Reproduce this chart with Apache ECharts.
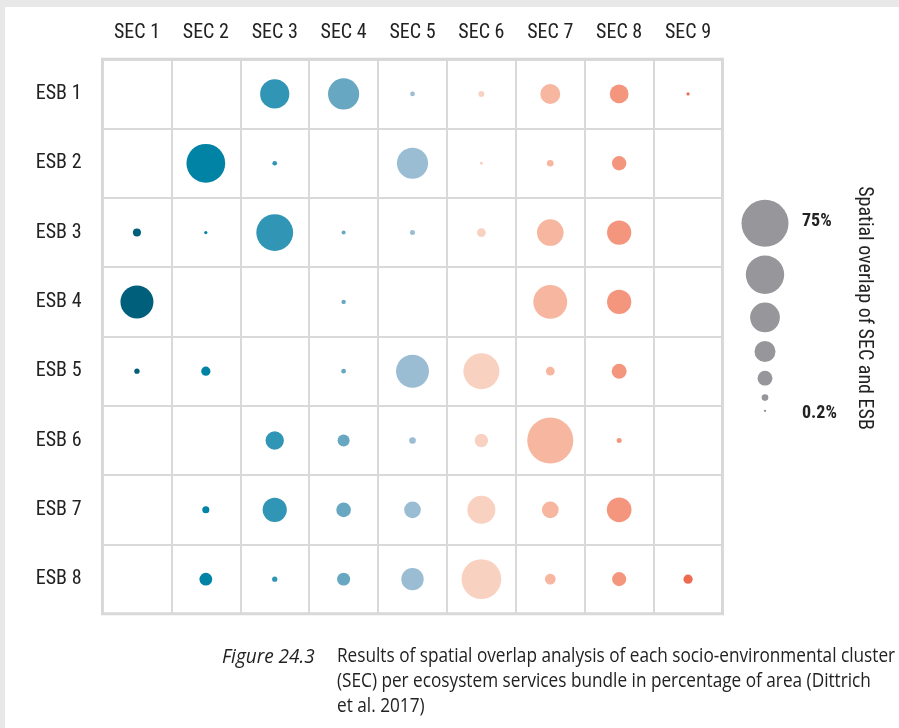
<!DOCTYPE html>
<html>
<head>
<meta charset="utf-8">
<script src="https://cdn.jsdelivr.net/npm/echarts@6/dist/echarts.min.js"></script>
<style>
html,body{margin:0;padding:0;background:#e8e8e8;}
#wrap{position:absolute;left:5px;top:7px;right:0;bottom:0;background:#fff;}
#chart{position:absolute;left:0;top:0;width:899px;height:728px;}
</style>
</head>
<body>
<div id="wrap"></div>
<div id="chart"></div>
<script>
// ---- data ----
const secs = ['SEC 1','SEC 2','SEC 3','SEC 4','SEC 5','SEC 6','SEC 7','SEC 8','SEC 9'];
const esbs = ['ESB 1','ESB 2','ESB 3','ESB 4','ESB 5','ESB 6','ESB 7','ESB 8'];
const secColors = ['#005f7b','#0083a5','#3196b5','#67a7c2','#9bbdd3','#f9d1c1','#f7b69f','#f4967d','#ef6b4f'];
// spatial overlap (% of area) per ESB row, one value per SEC (null = none)
const esb1 = [null, null, 29, 33, 0.75, 1.2, 13.5, 12, 0.35];
const esb2 = [null, 51, 0.75, null, 33, 0.3, 1.5, 7, null];
const esb3 = [2.2, 0.35, 46, 0.55, 0.85, 2.6, 24, 20, null];
const esb4 = [37, null, null, 0.65, null, null, 39, 20, null];
const esb5 = [0.95, 2.9, null, 0.75, 37, 44, 2.6, 7.6, null];
const esb6 = [null, null, 11.4, 4.9, 1.5, 6, 72, 0.85, null];
const esb7 = [null, 1.7, 20, 7.3, 9.5, 26.6, 9.5, 20.7, null];
const esb8 = [null, 5.5, 0.95, 5.7, 17, 53.5, 3.9, 6.7, 2.9];
const legendValues = [75, 50, 30, 15, 7.5, 1.5, 0.2];
const legendLabels = ['75%', '', '', '', '', '', '0.2%'];
const legendTitle = 'Spatial overlap of SEC and ESB';
const captionLabel = 'Figure 24.3';
const captionLines = [
  'Results of spatial overlap analysis of each socio-environmental cluster',
  '(SEC) per ecosystem services bundle in percentage of area (Dittrich',
  'et al. 2017)'
];

// ---- build ----
const rows = [esb1, esb2, esb3, esb4, esb5, esb6, esb7, esb8];
const points = [];
rows.forEach((r, yi) => r.forEach((v, xi) => { if (v != null) points.push([xi, yi, v]); }));

const MAXV = 75, MAXD = 47;
const sizeOf = v => MAXD * Math.sqrt(v / MAXV);

// legend positions stacked with constant gap
const GAP = 8.7;
const legendPts = [];
let yy = 33.3;
legendValues.forEach((v, i) => {
  if (i > 0) yy += sizeOf(legendValues[i - 1]) / 2 + sizeOf(v) / 2 + GAP;
  legendPts.push({ value: [0, yy, v], label: { show: !!legendLabels[i], formatter: legendLabels[i], offset: [37, i === 0 ? -2 : 3] } });
});

const condensed = "'Liberation Sans Narrow','Roboto Condensed',Roboto,sans-serif";
const chart = echarts.init(document.getElementById('chart'), null, { renderer: 'canvas' });
chart.setOption({
  animation: false,
  textStyle: { fontFamily: condensed },
  grid: [
    { left: 102.5, top: 59.3, width: 620, height: 554.5, show: true, borderColor: '#d6d6d6', borderWidth: 3, backgroundColor: 'transparent' },
    { left: 740, top: 190, width: 50, height: 250 }
  ],
  xAxis: [
    { type: 'category', data: secs, position: 'top', gridIndex: 0,
      axisLine: { show: false }, axisTick: { show: false },
      axisLabel: { color: '#222', fontSize: 20, margin: 16, fontFamily: condensed },
      splitLine: { show: true, lineStyle: { color: '#d9d9d9', width: 2 } } },
    { type: 'value', gridIndex: 1, min: -1, max: 1, show: false }
  ],
  yAxis: [
    { type: 'category', data: esbs, inverse: true, gridIndex: 0,
      axisLine: { show: false }, axisTick: { show: false },
      axisLabel: { color: '#222', fontSize: 20, margin: 21, fontFamily: condensed },
      splitLine: { show: true, lineStyle: { color: '#d9d9d9', width: 2 } } },
    { type: 'value', gridIndex: 1, min: 0, max: 250, inverse: true, show: false }
  ],
  series: [
    { type: 'scatter', xAxisIndex: 0, yAxisIndex: 0, data: points,
      symbolSize: v => sizeOf(v[2]),
      itemStyle: { opacity: 1, color: p => secColors[p.data[0]] } },
    { type: 'scatter', xAxisIndex: 1, yAxisIndex: 1, data: legendPts,
      symbolSize: v => sizeOf(v[2]),
      itemStyle: { color: '#97979b', opacity: 1 },
      label: { position: 'inside', align: 'left', color: '#222', fontSize: 18, fontWeight: 'bold', fontFamily: condensed } }
  ],
  graphic: [
    { type: 'text', x: 864, y: 308, rotation: -Math.PI / 2,
      style: { text: legendTitle, fill: '#222', font: "20px " + condensed, textAlign: 'center', textVerticalAlign: 'middle' } },
    { type: 'text', x: 222, y: 657, scaleX: 0.95,
      style: { text: captionLabel, fill: '#222', font: "italic 20px 'Open Sans',sans-serif", textAlign: 'left', textVerticalAlign: 'middle' } },
    { type: 'text', x: 337, y: 644, scaleX: 0.86,
      style: { text: captionLines.join('\n'), fill: '#222', font: "20px 'Open Sans',sans-serif", lineHeight: 25, textAlign: 'left', textVerticalAlign: 'top' } }
  ]
});
</script>
</body>
</html>
